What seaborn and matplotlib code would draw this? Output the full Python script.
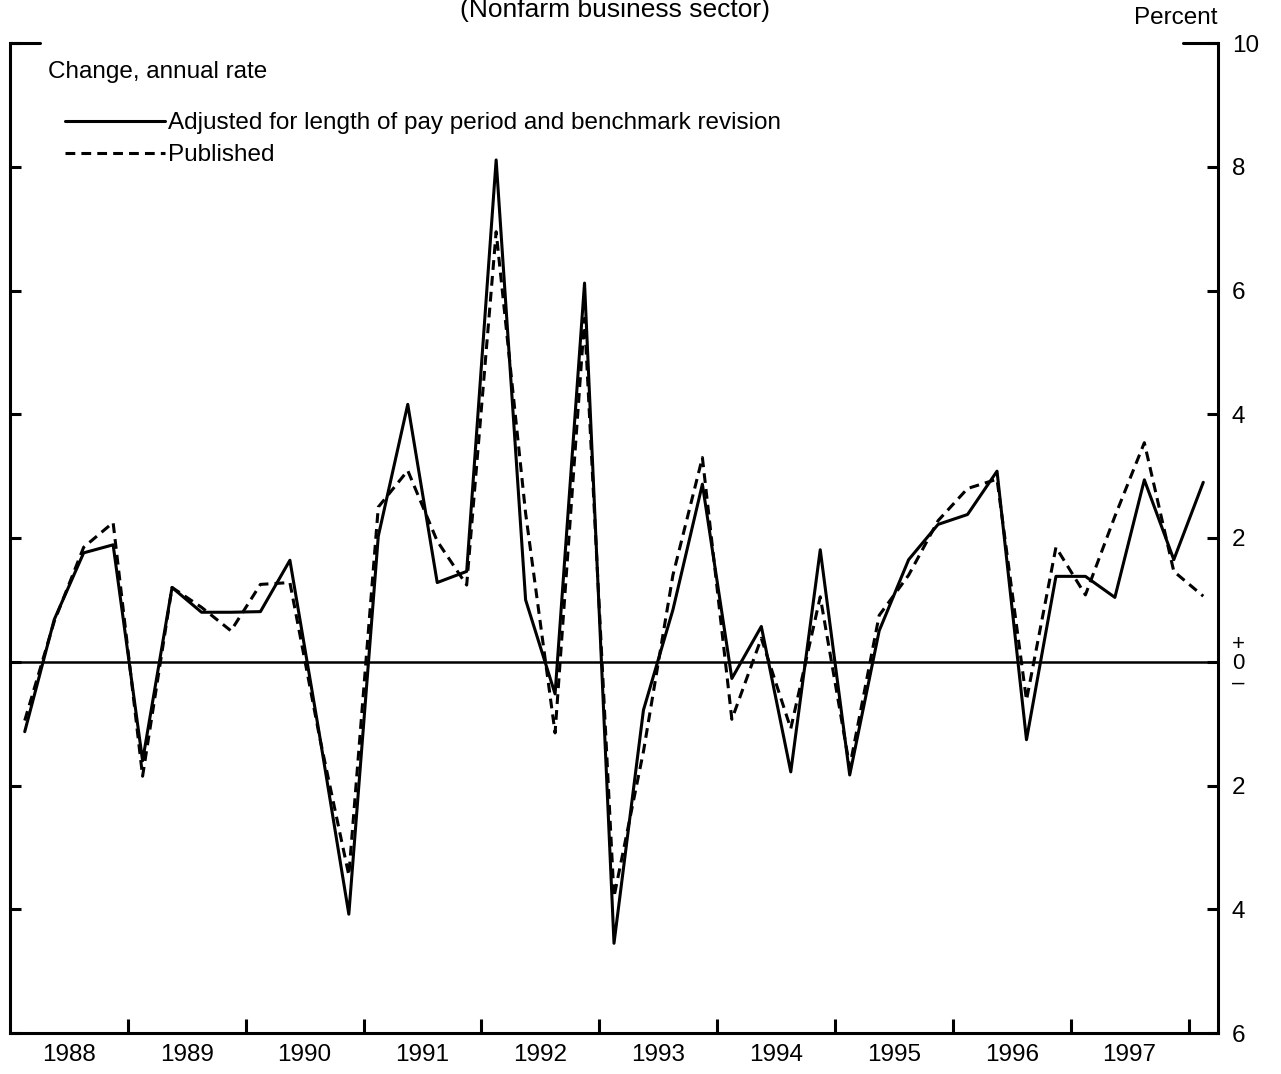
import numpy as np
import pandas as pd
import matplotlib
matplotlib.use("Agg")
import matplotlib.pyplot as plt
import seaborn as sns

# ---------------- data (quarterly, 1988Q1 .. 1998Q1) ----------------
quarters = [f"{y}Q{q}" for y in range(1988, 1999) for q in range(1, 5)][:41]
adjusted = [-1.13, 0.68, 1.76, 1.89, -1.60, 1.20, 0.80, 0.80, 0.81, 1.64,
            -1.17, -4.08, 2.03, 4.16, 1.28, 1.46, 8.11, 1.00, -0.52, 6.12,
            -4.55, -0.78, 0.84, 2.87, -0.27, 0.57, -1.78, 1.81, -1.83, 0.50,
            1.65, 2.22, 2.38, 3.08, -1.26, 1.38, 1.38, 1.04, 2.94, 1.65, 2.90]
published = [-0.95, 0.65, 1.85, 2.25, -1.85, 1.20, 0.88, 0.50, 1.25, 1.28,
             -1.20, -3.45, 2.50, 3.09, 1.95, 1.24, 6.95, 2.40, -1.15, 5.55,
             -3.80, -1.45, 1.40, 3.30, -0.93, 0.38, -1.08, 1.05, -1.70, 0.75,
             1.40, 2.28, 2.80, 2.95, -0.62, 1.85, 1.08, 2.35, 3.54, 1.46, 1.06]
year_labels = [str(y) for y in range(1988, 1998)]
y_ticks = [-6, -4, -2, 0, 2, 4, 6, 8, 10]
y_tick_labels = ["6", "4", "2", "+\n0\n\u2013", "2", "4", "6", "8", "10"]
label_adj = "Adjusted for length of pay period and benchmark revision"
label_pub = "Published"

# position of each quarter (mid-quarter) in fractional years
def qpos(s):
    y, q = s.split("Q")
    return int(y) + (int(q) - 1) * 0.25 + 0.125

df = pd.DataFrame({"t": [qpos(q) for q in quarters],
                   "Adjusted": adjusted, "Published": published})

# ---------------- figure ----------------
sns.set_theme(style="white")
plt.rcParams["font.family"] = ["Liberation Sans", "DejaVu Sans"]

FS = 17.5
W, H = 1281, 1074
fig = plt.figure(figsize=(W / 100, H / 100), dpi=100)
ax = fig.add_axes([10 / W, 1 - 1033 / H, 1208 / W, (1033 - 43) / H])

sns.lineplot(data=df, x="t", y="Adjusted", ax=ax, color="black", lw=2.2,
             label=label_adj)
sns.lineplot(data=df, x="t", y="Published", ax=ax, color="black", lw=2.2,
             linestyle=(0, (3.2, 2.0)), label=label_pub)

ax.axhline(0, color="black", lw=1.8, zorder=1)

ax.set_xlim(1988, 1998.25)
ax.set_ylim(-6, 10)
ax.set_xlabel("")
ax.set_ylabel("")

# spines
for s in ["left", "right", "bottom"]:
    ax.spines[s].set_visible(True)
    ax.spines[s].set_color("black")
    ax.spines[s].set_linewidth(2.2)
ax.spines["top"].set_visible(False)

# x ticks: year boundaries (major, inward), labels at mid-year (minor)
ax.set_xticks(list(range(1989, 1999)))
ax.set_xticklabels([""] * 10)
ax.set_xticks([y + 0.5 for y in range(1988, 1998)], minor=True)
ax.set_xticklabels(year_labels, minor=True)
ax.tick_params(axis="x", which="major", direction="in", length=10, width=2.2,
               color="black", bottom=True)
ax.tick_params(axis="x", which="minor", length=0, pad=8, labelsize=FS,
               labelcolor="black")

# y ticks on both sides, labels on the right
ax.set_yticks(y_ticks)
ax.set_yticklabels(y_tick_labels)
ax.tick_params(axis="y", which="major", direction="in", length=8, width=2.2,
               color="black", left=True, right=True, labelleft=False,
               labelright=True, pad=10, labelsize=FS, labelcolor="black")
for lab in ax.get_yticklabels():
    if "+" in lab.get_text():
        lab.set_fontsize(16)
        lab.set_linespacing(0.9)

# longer ticks at the top on both sides
ax.axhline(10, xmin=0, xmax=30 / 1208, color="black", lw=2.2, clip_on=False)
ax.axhline(10, xmin=1 - 35 / 1208, xmax=1, color="black", lw=2.2, clip_on=False)

# texts
fig.text(615 / W, 1 - 10 / H, "(Nonfarm business sector)", ha="center", va="center",
         fontsize=19, color="black")
fig.text(1217 / W, 1 - 18 / H, "Percent", ha="right", va="center",
         fontsize=FS, color="black")
ax.text(38 / 1208, 1 - (72 - 43) / 990, "Change, annual rate", transform=ax.transAxes,
        ha="left", va="center", fontsize=FS, color="black")

leg = ax.legend(loc="upper left", bbox_to_anchor=(55 / 1208, 1 - (112 - 43) / 990),
                frameon=False, fontsize=FS, handlelength=4.1, handletextpad=0.12,
                labelspacing=0.42, borderaxespad=0, borderpad=0)
for t in leg.get_texts():
    t.set_color("black")

fig.savefig("out.png", dpi=100, facecolor="white")
